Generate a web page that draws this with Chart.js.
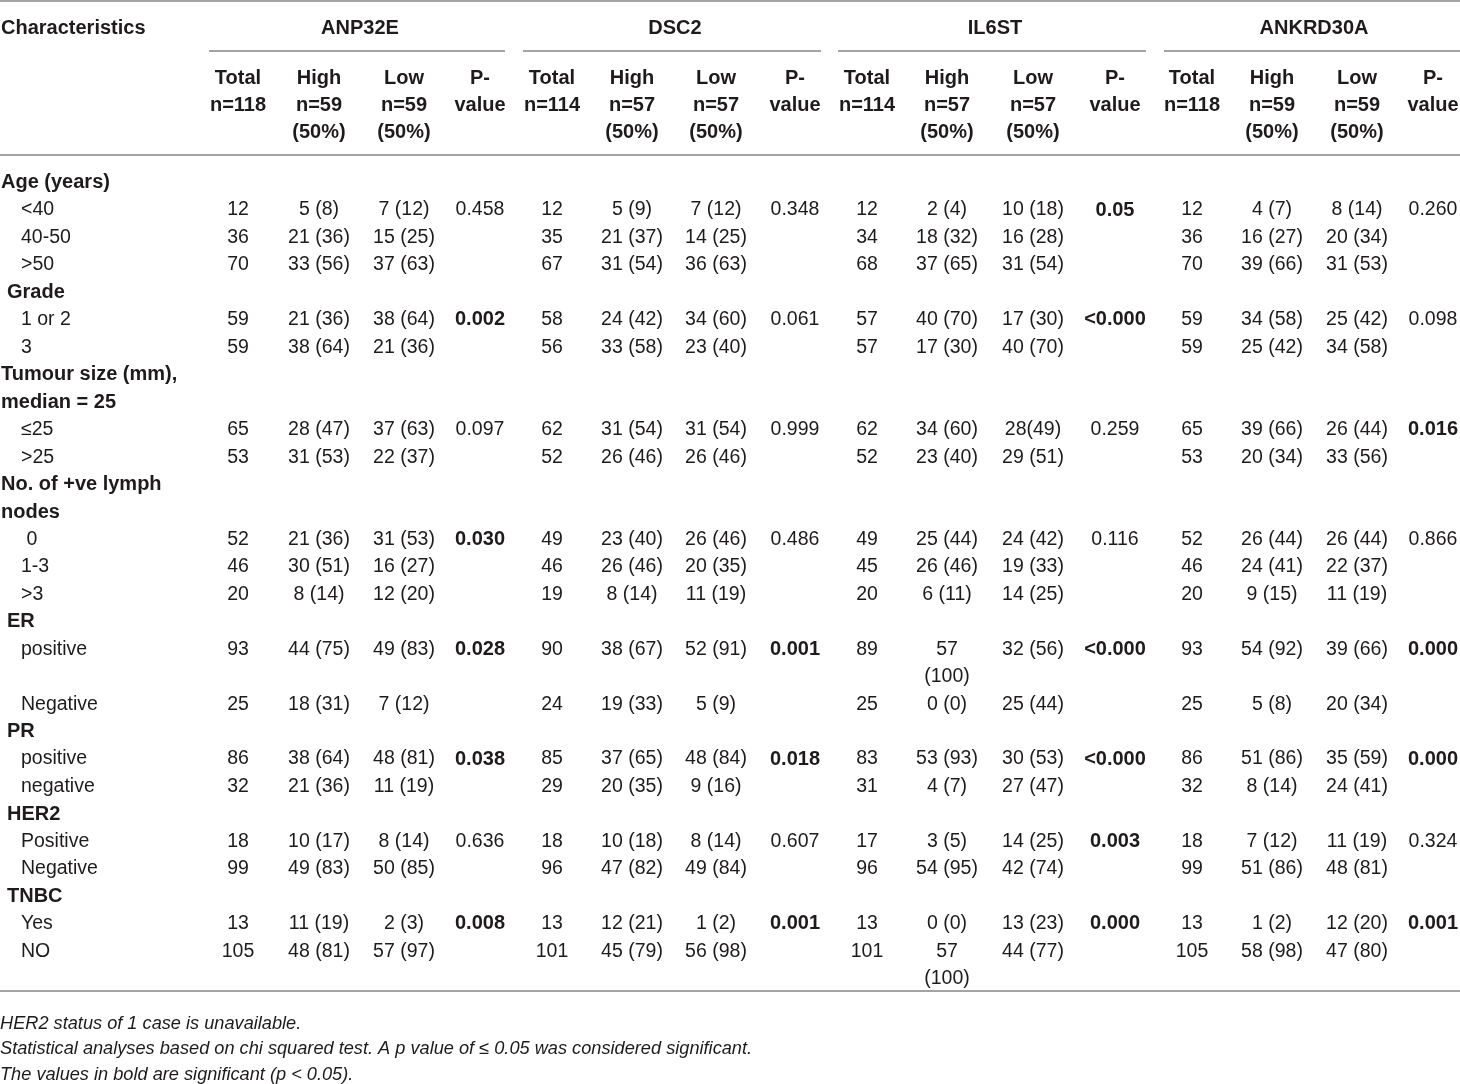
<!DOCTYPE html>
<html>
<head>
<meta charset="utf-8">
<script src="https://cdn.jsdelivr.net/npm/chart.js@4.4.1/dist/chart.umd.min.js"></script>
<style>
html,body{margin:0;padding:0;background:#fff;overflow:hidden}
#wrap{position:relative;width:1460px;height:1084px}
</style>
</head>
<body>
<div id="wrap"><canvas id="c"></canvas></div>
<script>
// ---------------- DATA ----------------
const genes = ["ANP32E", "DSC2", "IL6ST", "ANKRD30A"];
const totalN = [118, 114, 114, 118];
const highN = [59, 57, 57, 59];
const lowN = [59, 57, 57, 59];
const highPct = ["50%", "50%", "50%", "50%"];
const lowPct = ["50%", "50%", "50%", "50%"];

// table lines: [text, kind]  kind: "sec" section header, "sec2" indented section header, "sub" sub-row, "blank"
const rowLabels = [
  ["Age (years)", "sec"], ["<40", "sub"], ["40-50", "sub"], [">50", "sub"],
  ["Grade", "sec2"], ["1 or 2", "sub"], ["3", "sub"],
  ["Tumour size (mm),", "sec"], ["median = 25", "sec"], ["\u226425", "sub"], [">25", "sub"],
  ["No. of +ve lymph", "sec"], ["nodes", "sec"], [" 0", "sub"], ["1-3", "sub"], [">3", "sub"],
  ["ER", "sec2"], ["positive", "sub"], ["", "blank"], ["Negative", "sub"],
  ["PR", "sec2"], ["positive", "sub"], ["negative", "sub"],
  ["HER2", "sec2"], ["Positive", "sub"], ["Negative", "sub"],
  ["TNBC", "sec2"], ["Yes", "sub"], ["NO", "sub"], ["", "blank"]
];
// which table line each data row sits on
const dataRowLines = [1, 2, 3, 5, 6, 9, 10, 13, 14, 15, 17, 19, 21, 22, 24, 25, 27, 28];
// which table line each p-value sits on
const pLines = [1, 5, 9, 13, 17, 21, 24, 27];

const anp32eTotal = [12, 36, 70, 59, 59, 65, 53, 52, 46, 20, 93, 25, 86, 32, 18, 99, 13, 105];
const anp32eHigh = ["5 (8)", "21 (36)", "33 (56)", "21 (36)", "38 (64)", "28 (47)", "31 (53)", "21 (36)", "30 (51)", "8 (14)", "44 (75)", "18 (31)", "38 (64)", "21 (36)", "10 (17)", "49 (83)", "11 (19)", "48 (81)"];
const anp32eLow = ["7 (12)", "15 (25)", "37 (63)", "38 (64)", "21 (36)", "37 (63)", "22 (37)", "31 (53)", "16 (27)", "12 (20)", "49 (83)", "7 (12)", "48 (81)", "11 (19)", "8 (14)", "50 (85)", "2 (3)", "57 (97)"];
const anp32eP = ["0.458", "0.002", "0.097", "0.030", "0.028", "0.038", "0.636", "0.008"];
const anp32eSig = [false, true, false, true, true, true, false, true];

const dsc2Total = [12, 35, 67, 58, 56, 62, 52, 49, 46, 19, 90, 24, 85, 29, 18, 96, 13, 101];
const dsc2High = ["5 (9)", "21 (37)", "31 (54)", "24 (42)", "33 (58)", "31 (54)", "26 (46)", "23 (40)", "26 (46)", "8 (14)", "38 (67)", "19 (33)", "37 (65)", "20 (35)", "10 (18)", "47 (82)", "12 (21)", "45 (79)"];
const dsc2Low = ["7 (12)", "14 (25)", "36 (63)", "34 (60)", "23 (40)", "31 (54)", "26 (46)", "26 (46)", "20 (35)", "11 (19)", "52 (91)", "5 (9)", "48 (84)", "9 (16)", "8 (14)", "49 (84)", "1 (2)", "56 (98)"];
const dsc2P = ["0.348", "0.061", "0.999", "0.486", "0.001", "0.018", "0.607", "0.001"];
const dsc2Sig = [false, false, false, false, true, true, false, true];

const il6stTotal = [12, 34, 68, 57, 57, 62, 52, 49, 45, 20, 89, 25, 83, 31, 17, 96, 13, 101];
const il6stHigh = ["2 (4)", "18 (32)", "37 (65)", "40 (70)", "17 (30)", "34 (60)", "23 (40)", "25 (44)", "26 (46)", "6 (11)", "57 (100)", "0 (0)", "53 (93)", "4 (7)", "3 (5)", "54 (95)", "0 (0)", "57 (100)"];
const il6stLow = ["10 (18)", "16 (28)", "31 (54)", "17 (30)", "40 (70)", "28(49)", "29 (51)", "24 (42)", "19 (33)", "14 (25)", "32 (56)", "25 (44)", "30 (53)", "27 (47)", "14 (25)", "42 (74)", "13 (23)", "44 (77)"];
const il6stP = ["0.05", "<0.000", "0.259", "0.116", "<0.000", "<0.000", "0.003", "0.000"];
const il6stSig = [true, true, false, false, true, true, true, true];

const ankrd30aTotal = [12, 36, 70, 59, 59, 65, 53, 52, 46, 20, 93, 25, 86, 32, 18, 99, 13, 105];
const ankrd30aHigh = ["4 (7)", "16 (27)", "39 (66)", "34 (58)", "25 (42)", "39 (66)", "20 (34)", "26 (44)", "24 (41)", "9 (15)", "54 (92)", "5 (8)", "51 (86)", "8 (14)", "7 (12)", "51 (86)", "1 (2)", "58 (98)"];
const ankrd30aLow = ["8 (14)", "20 (34)", "31 (53)", "25 (42)", "34 (58)", "26 (44)", "33 (56)", "26 (44)", "22 (37)", "11 (19)", "39 (66)", "20 (34)", "35 (59)", "24 (41)", "11 (19)", "48 (81)", "12 (20)", "47 (80)"];
const ankrd30aP = ["0.260", "0.098", "0.016", "0.866", "0.000", "0.000", "0.324", "0.001"];
const ankrd30aSig = [false, false, true, false, true, true, false, true];

const footnotes = [
  "HER2 status of 1 case is unavailable.",
  "Statistical analyses based on chi squared test. A p value of \u2264 0.05 was considered significant.",
  "The values in bold are significant (p < 0.05)."
];

// ---------------- LAYOUT / STYLE ----------------
const W = 1460, H = 1084;
const FONT = '"Liberation Sans", Arial, Helvetica, sans-serif';
const FS = 19.5, FS_BOLD = 20, FOOT_FS = 18.2;
const TEXT = "#1e1b1c";
const RULE = "#a3a3a3";
const ROW0 = 181, PITCH = 27.45;
const lineY = i => ROW0 + i * PITCH;
// column centres [total, high, low, p] per gene
const colX = [[238, 319, 404, 480], [552, 632, 716, 795], [867, 947, 1033, 1115], [1192, 1272, 1357, 1433]];
const groupSpan = [[209, 505], [523, 821], [838, 1146], [1164, 1460]];
const groupTitleX = [360, 675, 995, 1314];
const indentX = {sec: 1, sec2: 7, sub: 21, blank: 21};

const geneData = [
  [anp32eTotal, anp32eHigh, anp32eLow, anp32eP, anp32eSig],
  [dsc2Total, dsc2High, dsc2Low, dsc2P, dsc2Sig],
  [il6stTotal, il6stHigh, il6stLow, il6stP, il6stSig],
  [ankrd30aTotal, ankrd30aHigh, ankrd30aLow, ankrd30aP, ankrd30aSig]
];

// ---------------- DATASETS ----------------
const datasets = [];
datasets.push({
  label: "labels",
  data: rowLabels.map((r, i) => ({x: indentX[r[1]], y: lineY(i)})),
  texts: rowLabels.map(r => r[0]),
  bold: rowLabels.map(r => r[1] === "sec" || r[1] === "sec2"),
  align: "left",
  pointRadius: 0
});
geneData.forEach((gd, g) => {
  const [tot, hi, lo, p, sig] = gd;
  [[tot, 0], [hi, 1], [lo, 2]].forEach(([arr, k]) => {
    datasets.push({
      label: genes[g] + "-" + k,
      data: arr.map((v, j) => ({x: colX[g][k], y: lineY(dataRowLines[j])})),
      texts: arr.map(v => String(v)),
      bold: arr.map(() => false),
      align: "center",
      pointRadius: 0
    });
  });
  datasets.push({
    label: genes[g] + "-p",
    data: p.map((v, j) => ({x: colX[g][3], y: lineY(pLines[j])})),
    texts: p.slice(),
    bold: sig.slice(),
    align: "center",
    pointRadius: 0
  });
});

function put(ctx, txt, x, y, size, weight, align, style) {
  ctx.font = (style || "normal") + " " + weight + " " + size + "px " + FONT;
  ctx.textAlign = align;
  ctx.textBaseline = "alphabetic";
  ctx.fillStyle = TEXT;
  ctx.fillText(txt, x, y + size * 0.36);
}

const tablePlugin = {
  id: "tablePlugin",
  afterDatasetsDraw(chart) {
    const ctx = chart.ctx;
    const xs = chart.scales.x, ys = chart.scales.y;
    const px = v => xs.getPixelForValue(v);
    const py = v => ys.getPixelForValue(v);
    ctx.save();
    ctx.strokeStyle = RULE;
    ctx.lineWidth = 2;
    const hline = (x0, x1, y) => { ctx.beginPath(); ctx.moveTo(px(x0), py(y)); ctx.lineTo(px(x1), py(y)); ctx.stroke(); };
    hline(0, W, 1);
    groupSpan.forEach(s => hline(s[0], s[1], 51));
    hline(0, W, 155);
    hline(0, W, 991);

    put(ctx, "Characteristics", px(1), py(27), FS_BOLD, "bold", "left");
    genes.forEach((gname, g) => {
      put(ctx, gname, px(groupTitleX[g]), py(27), FS_BOLD, "bold", "center");
      const c = colX[g];
      put(ctx, "Total", px(c[0]), py(77), FS_BOLD, "bold", "center");
      put(ctx, "n=" + totalN[g], px(c[0]), py(104), FS_BOLD, "bold", "center");
      put(ctx, "High", px(c[1]), py(77), FS_BOLD, "bold", "center");
      put(ctx, "n=" + highN[g], px(c[1]), py(104), FS_BOLD, "bold", "center");
      put(ctx, "(" + highPct[g] + ")", px(c[1]), py(131), FS_BOLD, "bold", "center");
      put(ctx, "Low", px(c[2]), py(77), FS_BOLD, "bold", "center");
      put(ctx, "n=" + lowN[g], px(c[2]), py(104), FS_BOLD, "bold", "center");
      put(ctx, "(" + lowPct[g] + ")", px(c[2]), py(131), FS_BOLD, "bold", "center");
      put(ctx, "P-", px(c[3]), py(77), FS_BOLD, "bold", "center");
      put(ctx, "value", px(c[3]), py(104), FS_BOLD, "bold", "center");
    });

    chart.data.datasets.forEach((ds, i) => {
      const meta = chart.getDatasetMeta(i);
      meta.data.forEach((pt, j) => {
        const t = ds.texts[j];
        if (!t) return;
        const w = ds.bold[j] ? "bold" : "normal";
        const sz = ds.bold[j] ? FS_BOLD : FS;
        ctx.font = "normal " + w + " " + sz + "px " + FONT;
        if (ds.align === "center" && ctx.measureText(t).width > 70 && t.indexOf(" ") > 0) {
          const k = t.indexOf(" ");
          put(ctx, t.slice(0, k), pt.x, pt.y, sz, w, "center");
          put(ctx, t.slice(k + 1), pt.x, pt.y + PITCH, sz, w, "center");
        } else {
          put(ctx, t, pt.x, pt.y, sz, w, ds.align);
        }
      });
    });

    [1022, 1047.5, 1073].forEach((y, i) => put(ctx, footnotes[i], px(0), py(y), FOOT_FS, "normal", "left", "italic"));
    ctx.restore();
  }
};

new Chart(document.getElementById("c"), {
  type: "scatter",
  data: {datasets},
  options: {
    responsive: true,
    maintainAspectRatio: false,
    animation: false,
    events: [],
    layout: {padding: 0},
    plugins: {legend: {display: false}, tooltip: {enabled: false}},
    elements: {point: {radius: 0, hoverRadius: 0}},
    scales: {
      x: {type: "linear", min: 0, max: W, display: false},
      y: {type: "linear", min: 0, max: H, reverse: true, display: false}
    }
  },
  plugins: [tablePlugin]
});
</script>
</body>
</html>
